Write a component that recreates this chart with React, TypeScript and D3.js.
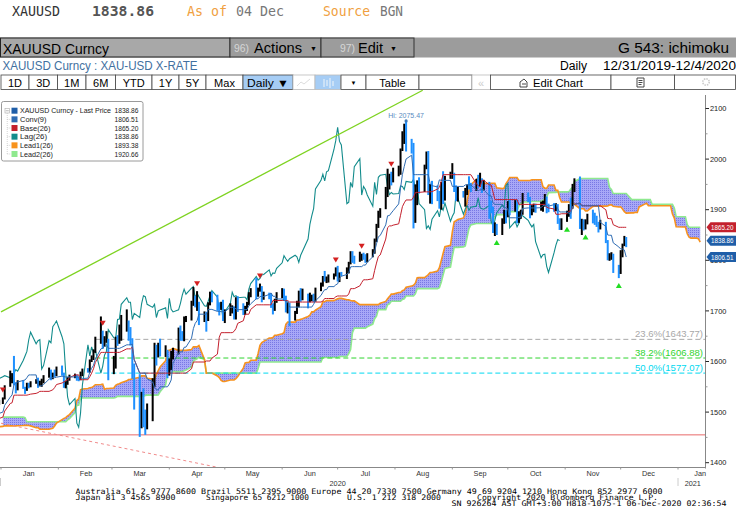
import * as d3 from 'd3'

// daily bars: [open, high, low, close], one per weekday (holidays skipped)
type Bar = [number, number, number, number]

const FIRST_DAY = '2019-09-13'
const HOLIDAYS = ['2019-12-25', '2020-01-01', '2020-12-25', '2021-01-01']

const SEP_2019: Bar[] = [
  [1498, 1506, 1486, 1488], [1488, 1511, 1484, 1498], [1498, 1511, 1496, 1502], [1502, 1507, 1491, 1494],
  [1494, 1507, 1489, 1499], [1499, 1517, 1497, 1516], [1516, 1526, 1511, 1522], [1522, 1535, 1520, 1531],
  [1531, 1533, 1502, 1504], [1504, 1513, 1497, 1505], [1505, 1510, 1487, 1497], [1497, 1498, 1464, 1472],
]
const OCT_2019: Bar[] = [
  [1472, 1486, 1459, 1478], [1478, 1502, 1474, 1500], [1500, 1514, 1497, 1506], [1506, 1513, 1500, 1504],
  [1504, 1505, 1490, 1494], [1494, 1508, 1490, 1505], [1505, 1512, 1500, 1506], [1506, 1509, 1493, 1495],
  [1495, 1501, 1480, 1489], [1489, 1496, 1486, 1493], [1493, 1499, 1477, 1481], [1481, 1495, 1481, 1490],
  [1490, 1499, 1485, 1493], [1493, 1497, 1486, 1490], [1490, 1494, 1480, 1484], [1484, 1490, 1479, 1487],
  [1487, 1496, 1482, 1492], [1492, 1507, 1490, 1504], [1504, 1511, 1501, 1505], [1505, 1507, 1490, 1492],
  [1492, 1494, 1480, 1487], [1487, 1499, 1483, 1496], [1496, 1514, 1490, 1513],
]
const NOV_2019: Bar[] = [
  [1513, 1517, 1503, 1514], [1514, 1516, 1505, 1510], [1510, 1512, 1480, 1484], [1484, 1495, 1478, 1491],
  [1491, 1495, 1462, 1467], [1467, 1472, 1456, 1459], [1459, 1462, 1450, 1456], [1456, 1460, 1445, 1449],
  [1449, 1467, 1447, 1463], [1463, 1474, 1460, 1471], [1471, 1475, 1463, 1468], [1468, 1475, 1463, 1472],
  [1472, 1476, 1466, 1471], [1471, 1478, 1467, 1474], [1474, 1476, 1460, 1464], [1464, 1468, 1456, 1462],
  [1462, 1464, 1452, 1455], [1455, 1463, 1454, 1462], [1462, 1463, 1451, 1454], [1454, 1460, 1452, 1457],
  [1457, 1466, 1455, 1464],
]
const DEC_2019: Bar[] = [
  [1464, 1465, 1456, 1462], [1462, 1479, 1460, 1477], [1477, 1481, 1470, 1474], [1474, 1482, 1470, 1474],
  [1474, 1476, 1458, 1460], [1460, 1465, 1456, 1462], [1462, 1467, 1458, 1464], [1464, 1477, 1460, 1475],
  [1475, 1478, 1463, 1469], [1469, 1480, 1466, 1476], [1476, 1479, 1471, 1476], [1476, 1478, 1472, 1476],
  [1476, 1479, 1471, 1475], [1475, 1480, 1471, 1478], [1478, 1481, 1474, 1478], [1478, 1489, 1477, 1487],
  [1487, 1500, 1486, 1499], [1499, 1512, 1498, 1511], [1511, 1514, 1504, 1511], [1511, 1517, 1508, 1515],
  [1515, 1524, 1514, 1517],
]
const JAN_2020: Bar[] = [
  [1517, 1529, 1516, 1528], [1528, 1553, 1525, 1552], [1552, 1582, 1550, 1566], [1566, 1577, 1557, 1574],
  [1574, 1611, 1553, 1556], [1556, 1559, 1537, 1552], [1552, 1563, 1543, 1562], [1562, 1563, 1546, 1548],
  [1548, 1550, 1536, 1545], [1545, 1558, 1542, 1557], [1557, 1558, 1547, 1552], [1552, 1561, 1549, 1557],
  [1557, 1565, 1556, 1560], [1560, 1568, 1548, 1558], [1558, 1562, 1551, 1558], [1558, 1566, 1550, 1563],
  [1563, 1573, 1557, 1571], [1571, 1588, 1568, 1582], [1582, 1584, 1563, 1567], [1567, 1578, 1565, 1577],
  [1577, 1584, 1569, 1575], [1575, 1590, 1571, 1589],
]
const FEB_2020: Bar[] = [
  [1589, 1592, 1572, 1577], [1577, 1578, 1548, 1552], [1552, 1561, 1547, 1556], [1556, 1569, 1554, 1566],
  [1566, 1574, 1562, 1570], [1570, 1576, 1567, 1572], [1572, 1574, 1562, 1568], [1568, 1570, 1561, 1566],
  [1566, 1580, 1563, 1576], [1576, 1586, 1571, 1584], [1584, 1587, 1578, 1581], [1581, 1604, 1578, 1602],
  [1602, 1612, 1599, 1611], [1611, 1624, 1603, 1620], [1620, 1649, 1617, 1643], [1643, 1689, 1635, 1658],
  [1658, 1661, 1625, 1635], [1635, 1650, 1629, 1641], [1641, 1660, 1637, 1643], [1643, 1645, 1563, 1585],
]
const MAR_2020: Bar[] = [
  [1585, 1611, 1575, 1592], [1592, 1649, 1586, 1641], [1641, 1652, 1631, 1637], [1637, 1673, 1635, 1669],
  [1669, 1692, 1641, 1674], [1674, 1703, 1659, 1680], [1680, 1681, 1641, 1649], [1649, 1668, 1632, 1635],
  [1635, 1646, 1566, 1577], [1577, 1596, 1505, 1530], [1530, 1575, 1451, 1515], [1515, 1540, 1468, 1527],
  [1527, 1547, 1470, 1478], [1478, 1505, 1455, 1470], [1470, 1517, 1466, 1498], [1498, 1567, 1482, 1553],
  [1553, 1637, 1549, 1633], [1633, 1633, 1592, 1611], [1611, 1637, 1608, 1629], [1629, 1645, 1610, 1617],
  [1617, 1632, 1609, 1622], [1622, 1623, 1567, 1577],
]
const APR_2020: Bar[] = [
  [1577, 1606, 1572, 1591], [1591, 1621, 1583, 1613], [1613, 1627, 1604, 1620], [1620, 1667, 1614, 1663],
  [1663, 1671, 1641, 1647], [1647, 1660, 1641, 1646], [1646, 1689, 1640, 1683], [1683, 1690, 1678, 1684],
  [1684, 1720, 1681, 1713], [1713, 1747, 1710, 1726], [1726, 1730, 1707, 1717], [1717, 1739, 1700, 1717],
  [1717, 1718, 1672, 1683], [1683, 1699, 1678, 1695], [1695, 1698, 1659, 1687], [1687, 1717, 1680, 1714],
  [1714, 1738, 1711, 1730], [1730, 1738, 1717, 1728], [1728, 1732, 1700, 1713], [1713, 1717, 1691, 1707],
  [1707, 1718, 1702, 1713], [1713, 1722, 1680, 1687],
]
const MAY_2020: Bar[] = [
  [1687, 1703, 1676, 1700], [1700, 1715, 1690, 1702], [1702, 1711, 1695, 1706], [1706, 1709, 1683, 1685],
  [1685, 1727, 1683, 1725], [1725, 1729, 1698, 1703], [1703, 1715, 1692, 1698], [1698, 1710, 1692, 1702],
  [1702, 1718, 1700, 1715], [1715, 1737, 1711, 1731], [1731, 1745, 1727, 1743], [1743, 1765, 1723, 1733],
  [1733, 1746, 1728, 1745], [1745, 1754, 1738, 1748], [1748, 1749, 1717, 1726], [1726, 1738, 1722, 1735],
  [1735, 1736, 1723, 1728], [1728, 1735, 1706, 1710], [1710, 1715, 1693, 1709], [1709, 1724, 1700, 1719],
  [1719, 1737, 1716, 1730],
]
const JUN_2020: Bar[] = [
  [1730, 1745, 1725, 1740], [1740, 1744, 1721, 1727], [1727, 1730, 1697, 1700], [1700, 1717, 1695, 1714],
  [1714, 1716, 1670, 1683], [1683, 1700, 1681, 1698], [1698, 1720, 1694, 1715], [1715, 1740, 1707, 1737],
  [1737, 1745, 1718, 1728], [1728, 1744, 1721, 1730], [1730, 1734, 1705, 1726], [1726, 1736, 1717, 1727],
  [1727, 1732, 1719, 1727], [1727, 1734, 1717, 1722], [1722, 1746, 1718, 1743], [1743, 1756, 1739, 1754],
  [1754, 1769, 1748, 1768], [1768, 1779, 1758, 1761], [1761, 1768, 1755, 1764], [1764, 1772, 1756, 1771],
  [1771, 1774, 1762, 1772], [1772, 1786, 1768, 1781],
]
const JUL_2020: Bar[] = [
  [1781, 1789, 1758, 1769], [1769, 1776, 1757, 1775], [1775, 1777, 1769, 1774], [1774, 1786, 1763, 1784],
  [1784, 1797, 1774, 1795], [1795, 1818, 1792, 1809], [1809, 1818, 1795, 1803], [1803, 1809, 1793, 1798],
  [1798, 1817, 1797, 1803], [1803, 1813, 1799, 1810], [1810, 1815, 1801, 1807], [1807, 1812, 1795, 1796],
  [1796, 1814, 1796, 1810], [1810, 1822, 1806, 1818], [1818, 1843, 1813, 1842], [1842, 1872, 1836, 1871],
  [1871, 1898, 1864, 1888], [1888, 1903, 1884, 1902], [1902, 1945, 1901, 1941], [1941, 1981, 1925, 1958],
  [1958, 1971, 1940, 1970], [1970, 1975, 1948, 1957], [1957, 1983, 1954, 1975],
]
const AUG_2020: Bar[] = [
  [1975, 1987, 1966, 1977], [1977, 2021, 1969, 2019], [2019, 2055, 2016, 2037], [2037, 2070, 2030, 2063],
  [2063, 2075.47, 2015, 2035], [2035, 2040, 2011, 2028], [2028, 2032, 1863, 1912], [1912, 1950, 1874, 1915],
  [1915, 1958, 1909, 1954], [1954, 1964, 1932, 1944], [1944, 1989, 1935, 1985], [1985, 2015, 1980, 2001],
  [2001, 2016, 1929, 1929], [1929, 1951, 1912, 1946], [1946, 1957, 1911, 1940], [1940, 1948, 1917, 1929],
  [1929, 1937, 1902, 1907], [1907, 1955, 1900, 1954], [1954, 1976, 1911, 1930], [1930, 1967, 1918, 1964],
  [1964, 1975, 1961, 1968],
]
const SEP_2020: Bar[] = [
  [1968, 1992, 1961, 1970], [1970, 1973, 1935, 1944], [1944, 1948, 1917, 1930], [1930, 1945, 1916, 1934],
  [1934, 1937, 1924, 1931], [1931, 1943, 1906, 1932], [1932, 1950, 1929, 1947], [1947, 1966, 1940, 1946],
  [1946, 1953, 1935, 1940], [1940, 1961, 1937, 1956], [1956, 1969, 1943, 1954], [1954, 1973, 1946, 1960],
  [1960, 1962, 1933, 1944], [1944, 1959, 1938, 1950], [1950, 1955, 1882, 1912], [1912, 1918, 1893, 1900],
  [1900, 1906, 1854, 1863], [1863, 1875, 1848, 1868], [1868, 1872, 1850, 1861], [1861, 1883, 1850, 1881],
  [1881, 1900, 1872, 1898], [1898, 1899, 1873, 1886],
]
const OCT_2020: Bar[] = [
  [1886, 1917, 1885, 1906], [1906, 1920, 1889, 1899], [1899, 1919, 1896, 1913], [1913, 1920, 1873, 1877],
  [1877, 1897, 1874, 1887], [1887, 1900, 1882, 1894], [1894, 1933, 1890, 1931], [1931, 1934, 1915, 1922],
  [1922, 1925, 1883, 1891], [1891, 1909, 1889, 1902], [1902, 1912, 1895, 1908], [1908, 1912, 1894, 1899],
  [1899, 1916, 1898, 1905], [1905, 1918, 1896, 1907], [1907, 1931, 1906, 1924], [1924, 1926, 1893, 1904],
  [1904, 1912, 1895, 1902], [1902, 1913, 1896, 1901], [1901, 1913, 1897, 1908], [1908, 1911, 1872, 1877],
  [1877, 1883, 1860, 1868], [1868, 1883, 1860, 1879],
]
const NOV_2020: Bar[] = [
  [1879, 1898, 1876, 1894], [1894, 1911, 1886, 1909], [1909, 1924, 1882, 1904], [1904, 1951, 1902, 1948],
  [1948, 1962, 1935, 1952], [1952, 1965.6, 1862, 1864], [1864, 1882, 1850, 1877], [1877, 1881, 1859, 1866],
  [1866, 1881, 1861, 1873], [1873, 1892, 1871, 1889], [1889, 1900, 1873, 1888], [1888, 1894, 1870, 1879],
  [1879, 1888, 1866, 1872], [1872, 1876, 1855, 1866], [1866, 1880, 1861, 1871], [1871, 1876, 1834, 1837],
  [1837, 1840, 1800, 1805], [1805, 1814, 1799, 1811], [1811, 1816, 1801, 1812], [1812, 1813, 1775, 1788],
  [1788, 1791, 1764.8, 1776],
]
const DEC_2020: Bar[] = [
  [1776, 1820, 1773, 1815], [1815, 1833, 1806, 1830], [1830, 1848.2, 1828, 1841], [1841, 1846, 1826, 1838.86],
]

const BARS: Bar[] = [
  ...SEP_2019, ...OCT_2019, ...NOV_2019, ...DEC_2019,
  ...JAN_2020, ...FEB_2020, ...MAR_2020, ...APR_2020, ...MAY_2020, ...JUN_2020,
  ...JUL_2020, ...AUG_2020, ...SEP_2020, ...OCT_2020, ...NOV_2020, ...DEC_2020,
]

const LEGEND_NAMES = ['XAUUSD Curncy - Last Price', 'Conv(9)', 'Base(26)', 'Lag(26)', 'Lead1(26)', 'Lead2(26)']
const LEGEND_VALUES = ['1838.86', '1806.51', '1865.20', '1838.86', '1893.38', '1920.66']
const TAG_VALUES = [1865.2, 1838.86, 1806.51]
const FIB_LEVELS = [
  { label: '23.6%(1643.77)', value: 1643.77 },
  { label: '38.2%(1606.88)', value: 1606.88 },
  { label: '50.0%(1577.07)', value: 1577.07 },
]
const FIB_START = '2020-02-21'
const SUPPORT = 1455
const TREND_UP = [{ date: '2020-01-01', value: 1698 }, { date: '2020-08-16', value: 2136 }]
const TREND_DOWN = [{ date: '2020-01-01', value: 1478 }, { date: '2020-04-27', value: 1391 }]
const SELL_MARKS = ['2020-01-02', '2020-02-25', '2020-04-16', '2020-05-20', '2020-06-30', '2020-07-14', '2020-07-30']
const BUY_MARKS = ['2020-09-25', '2020-11-02', '2020-11-12', '2020-11-30']
const Y_TICKS = [1400, 1500, 1600, 1700, 1800, 1900, 2000, 2100]
const MONTHS = ['Jan', 'Feb', 'Mar', 'Apr', 'May', 'Jun', 'Jul', 'Aug', 'Sep', 'Oct', 'Nov', 'Dec']

const SHIFT = 26
const COLORS = {
  last: '#1f5ea8', conv: '#2f6cb3', base: '#c3202d', lag: '#138c8c', lead1: '#f7931e', lead2: '#8fe98f',
  up: '#000000', down: '#1e90ff',
}
const FIB_COLORS = ['#a8a8a8', '#2fd42f', '#00d8f0']
const SANS = "'Liberation Sans', Arial, sans-serif"
const MONO = "'DejaVu Sans Mono', monospace"

const key = (d: Date) =>
  `${d.getFullYear()}-${String(d.getMonth() + 1).padStart(2, '0')}-${String(d.getDate()).padStart(2, '0')}`
const parse = (s: string) => {
  const [y, m, d] = s.split('-').map(Number)
  return new Date(y, m - 1, d)
}

function tradingDays(start: string, count: number) {
  const out: Date[] = []
  const d = parse(start)
  while (out.length < count) {
    const wd = d.getDay()
    if (wd !== 0 && wd !== 6 && !HOLIDAYS.includes(key(d))) out.push(new Date(d))
    d.setDate(d.getDate() + 1)
  }
  return out
}

const N = BARS.length
const DATES = tradingDays(FIRST_DAY, N + SHIFT)
const highs = BARS.map((b) => b[1])
const lows = BARS.map((b) => b[2])
const closes = BARS.map((b) => b[3])

function midRange(i: number, n: number) {
  if (i < n - 1) return null
  const h = d3.max(highs.slice(i - n + 1, i + 1)) as number
  const l = d3.min(lows.slice(i - n + 1, i + 1)) as number
  return (h + l) / 2
}

const conv = BARS.map((_, i) => midRange(i, 9))
const base = BARS.map((_, i) => midRange(i, 26))
const lag = BARS.map((_, i) => (i + SHIFT < N ? closes[i + SHIFT] : null))
const lead1: (number | null)[] = new Array(N + SHIFT).fill(null)
const lead2: (number | null)[] = new Array(N + SHIFT).fill(null)
BARS.forEach((_, i) => {
  const c = conv[i], b = base[i]
  if (c != null && b != null) lead1[i + SHIFT] = (c + b) / 2
  lead2[i + SHIFT] = midRange(i, 52)
})

// plot frame
const PL = 0, PR = 705.5, PT = 92, PB = 467.5
const x = d3.scaleTime().domain([new Date(2020, 0, 1), new Date(2021, 0, 1)]).range([1, 678])
const y = d3.scaleLinear().domain([1400, 2100]).range([462.7, 108.5])

type Pt = [Date, number | null]
const seriesPath = (vals: (number | null)[]) =>
  d3.line<Pt>()
    .defined((p) => p[1] != null)
    .x((p) => x(p[0]))
    .y((p) => y(p[1] as number))(vals.map((v, i) => [DATES[i], v] as Pt)) ?? ''

const cloudPath =
  d3.area<number>()
    .defined((i) => lead1[i] != null && lead2[i] != null)
    .x((i) => x(DATES[i]))
    .y0((i) => y(lead1[i] as number))
    .y1((i) => y(lead2[i] as number))(d3.range(N + SHIFT)) ?? ''

const idxOf = (s: string) => DATES.findIndex((d) => key(d) === s)
const hiIdx = d3.maxIndex(highs)

function Text({ x, y, w, children, size = 11, fill = '#000', family = SANS, anchor = 'start', weight = 'normal' }: any) {
  return (
    <text x={x} y={y} fontSize={size} fill={fill} fontFamily={family} textAnchor={anchor} fontWeight={weight}
      {...(w ? { textLength: w, lengthAdjust: 'spacingAndGlyphs' } : {})}>
      {children}
    </text>
  )
}

const TOOL_EDGES = [1, 29, 57.5, 86, 115.5, 152, 179, 206, 243]
const RANGE_BUTTONS = ['1D', '3D', '1M', '6M', 'YTD', '1Y', '5Y', 'Max']

function Header() {
  return (
    <g>
      <Text x={12} y={16} size={13.5} fill="#333" family={MONO} w={48}>XAUUSD</Text>
      <Text x={92} y={16} size={13.5} fill="#555" family={MONO} w={62} weight="bold">1838.86</Text>
      <Text x={187} y={16} size={13.5} fill="#f0a040" family={MONO} w={40}>As of</Text>
      <Text x={236} y={16} size={13.5} fill="#777" family={MONO} w={48}>04 Dec</Text>
      <Text x={323} y={16} size={13.5} fill="#f0a040" family={MONO} w={47}>Source</Text>
      <Text x={380} y={16} size={13.5} fill="#777" family={MONO} w={23}>BGN</Text>

      <rect x={0} y={37.5} width={736} height={20} fill="#9c9c9c" />
      <rect x={0.5} y={38} width={229.5} height={19} fill="#a8a8a8" stroke="#222" />
      <Text x={3} y={53.5} size={15} w={106}>XAUUSD Curncy</Text>
      <rect x={230} y={38} width={91} height={19} fill="#9c9c9c" stroke="#333" />
      <Text x={234} y={52} size={11} fill="#d6d6d6" w={15}>96)</Text>
      <Text x={254} y={53} size={14} w={48}>Actions</Text>
      <Text x={310} y={51} size={7}>▼</Text>
      <rect x={321} y={38} width={93} height={19} fill="#9c9c9c" stroke="#333" />
      <Text x={340} y={52} size={11} fill="#d6d6d6" w={15}>97)</Text>
      <Text x={358} y={53} size={14} w={25}>Edit</Text>
      <Text x={390} y={51} size={7}>▼</Text>
      <Text x={729} y={53} size={14} anchor="end" w={111}>G 543: ichimoku</Text>

      <Text x={2.5} y={70} size={12} fill="#42709f" w={195}>XAUUSD Curncy : XAU-USD X-RATE</Text>
      <Text x={560} y={70} size={12} w={27}>Daily</Text>
      <Text x={603} y={70} size={12} w={133}>12/31/2019-12/4/2020</Text>

      {RANGE_BUTTONS.map((b, i) => (
        <g key={b}>
          <rect x={TOOL_EDGES[i]} y={75} width={TOOL_EDGES[i + 1] - TOOL_EDGES[i]} height={14.5} fill="#fff" stroke="#444" strokeWidth={0.8} />
          <Text x={(TOOL_EDGES[i] + TOOL_EDGES[i + 1]) / 2} y={86.5} size={11} anchor="middle">{b}</Text>
        </g>
      ))}
      <rect x={243} y={75} width={50} height={14.5} fill="#a6cdf5" stroke="#444" strokeWidth={0.8} />
      <Text x={247} y={86.5} size={11} w={42}>Daily ▼</Text>
      <rect x={293} y={75} width={22} height={14.5} fill="#fff" stroke="#bbb" strokeWidth={0.8} />
      <path d="M297,86 L301,82 L304,84 L310,79" fill="none" stroke="#ddd" />
      <rect x={315} y={75} width={25.5} height={14.5} fill="#a6cdf5" stroke="#bbb" strokeWidth={0.8} />
      <path d="M324,79 V87 M327,80 V86 M330,78 V88 M333,81 V86" stroke="#d8e8f8" strokeWidth={1.5} />
      <rect x={341} y={75} width={25} height={14.5} fill="#fff" stroke="#444" strokeWidth={0.8} />
      <Text x={353.5} y={85} size={6} anchor="middle">▼</Text>
      <rect x={366} y={75} width={53} height={14.5} fill="#fff" stroke="#444" strokeWidth={0.8} />
      <Text x={392.5} y={86.5} size={11} anchor="middle">Table</Text>
      <rect x={419} y={75} width={53} height={14.5} fill="#fff" stroke="#444" strokeWidth={0.8} />
      <rect x={472} y={75} width={18.5} height={14.5} fill="#fff" stroke="#bbb" strokeWidth={0.8} />
      <Text x={481} y={86.5} size={11} fill="#ccc" anchor="middle">«</Text>
      <rect x={490.5} y={75} width={120.5} height={14.5} fill="#fff" stroke="#444" strokeWidth={0.8} />
      <path d="M520,87 V82 L524,79 L527,82 V87 Z M522,84 H526" fill="none" stroke="#333" strokeWidth={0.9} />
      <Text x={533} y={86.5} size={11} w={50}>Edit Chart</Text>
      <rect x={611} y={75} width={63.5} height={14.5} fill="#fff" stroke="#444" strokeWidth={0.8} />
      <path d="M637,78 h7 v9 h-7 Z M638.5,80.5 h4 M638.5,82.5 h4 M638.5,84.5 h3" fill="none" stroke="#333" strokeWidth={0.9} />
      <rect x={674.5} y={75} width={61} height={14.5} fill="#fff" stroke="#444" strokeWidth={0.8} />
      <circle cx={706} cy={82} r={3.2} fill="none" stroke="#ccc" strokeWidth={1.6} strokeDasharray="1.5,1" />
    </g>
  )
}

const LEGEND_TEXT_W = [91, 26.5, 30.5, 27, 33, 33]

function Legend() {
  const colors = [COLORS.last, COLORS.conv, COLORS.base, COLORS.lag, COLORS.lead1, COLORS.lead2]
  const top = 110.7
  const step = 8.66
  return (
    <g>
      <rect x={1.5} y={101.5} width={141.5} height={59.5} rx={2} fill="#fff" stroke="#9a9a9a" />
      <rect x={5} y={108.5} width={4.5} height={4.5} fill="#fff" stroke="#aaa" strokeWidth={0.6} />
      <line x1={5.8} x2={8.8} y1={110.75} y2={110.75} stroke="#888" strokeWidth={0.6} />
      <line x1={7.25} x2={7.25} y1={113} y2={top + step * 5} stroke="#bbb" strokeWidth={0.6} strokeDasharray="1,1" />
      {LEGEND_NAMES.map((name, i) => {
        const cy = top + i * step
        return (
          <g key={name}>
            {i > 0 && <line x1={7.25} x2={11} y1={cy} y2={cy} stroke="#bbb" strokeWidth={0.6} strokeDasharray="1,1" />}
            <rect x={11.5} y={cy - 3} width={6} height={6} fill={colors[i]} />
            <Text x={20} y={cy + 2.6} size={7.3} fill="#222" w={LEGEND_TEXT_W[i]}>{name}</Text>
            <Text x={138.5} y={cy + 2.6} size={7.3} fill="#222" anchor="end" w={24}>{LEGEND_VALUES[i]}</Text>
          </g>
        )
      })}
    </g>
  )
}

function Axes() {
  const minor = d3.range(1450, 2101, 100)
  const monthStarts = d3.range(0, 13).map((m) => new Date(2020, m, 1))
  const mid = d3.range(0, 13).map((m) => new Date(2020, m, m === 12 ? 13 : 16))
  return (
    <g>
      <line x1={PR} x2={PR} y1={PT + 3} y2={PB + 1} stroke="#888" />
      <line x1={PL} x2={PR} y1={PB} y2={PB} stroke="#888" />
      {Y_TICKS.map((t) => (
        <g key={t}>
          <line x1={PR} x2={PR + 3.5} y1={y(t)} y2={y(t)} stroke="#222" />
          <Text x={PR + 4.5} y={y(t) + 2.6} size={7.4} fill="#222">{t}</Text>
        </g>
      ))}
      {minor.map((t) => <line key={t} x1={PR} x2={PR + 2} y1={y(t)} y2={y(t)} stroke="#999" />)}
      {monthStarts.map((d, i) => <line key={i} x1={x(d)} x2={x(d)} y1={PB} y2={PB + 2} stroke="#999" />)}
      {mid.map((d, i) => (
        <Text key={i} x={x(d)} y={476} size={7.3} fill="#333" anchor="middle">{MONTHS[i % 12]}</Text>
      ))}
      <line x1={0.5} x2={0.5} y1={478} y2={486} stroke="#ccc" />
      <line x1={x(new Date(2021, 0, 1))} x2={x(new Date(2021, 0, 1))} y1={478} y2={486} stroke="#ccc" />
      <Text x={x(new Date(2020, 6, 1))} y={486} size={7.3} fill="#333" anchor="middle">2020</Text>
      <Text x={x(new Date(2021, 0, 9))} y={486} size={7.3} fill="#333" anchor="middle">2021</Text>
    </g>
  )
}

function Footer() {
  return (
    <g>
      <Text x={75.5} y={493.5} size={7.6} family={MONO} w={587}>Australia 61 2 9777 8600 Brazil 5511 2395 9000 Europe 44 20 7330 7500 Germany 49 69 9204 1210 Hong Kong 852 2977 6000</Text>
      <Text x={75.5} y={499.5} size={7.6} family={MONO} w={100}>Japan 81 3 4565 8900</Text>
      <Text x={206} y={499.5} size={7.6} family={MONO} w={103}>Singapore 65 6212 1000</Text>
      <Text x={347} y={499.5} size={7.6} family={MONO} w={94}>U.S. 1 212 318 2000</Text>
      <Text x={477} y={499.5} size={7.6} family={MONO} w={181}>Copyright 2020 Bloomberg Finance L.P.</Text>
      <Text x={451.5} y={505.5} size={7.6} family={MONO} w={275}>SN 926264 AST  GMT+3:00 H818-1075-1 06-Dec-2020 02:36:54</Text>
    </g>
  )
}

export default function App() {
  const fibX = x(parse(FIB_START))
  const hiX = x(DATES[hiIdx])
  const tagColors = [COLORS.base, COLORS.last, COLORS.last]
  return (
    <div style={{ position: 'fixed', left: 0, top: 0 }}>
      <svg width={736} height={530} style={{ display: 'block', background: '#fff' }}>
        <defs>
          <clipPath id="plot"><rect x={PL} y={PT} width={PR - PL} height={PB - PT} /></clipPath>
          <clipPath id="plotTall"><rect x={PL} y={87} width={PR - PL} height={PB - 87} /></clipPath>
          <pattern id="cloud" width={2} height={2} patternUnits="userSpaceOnUse">
            <rect width={2} height={2} fill="#a8a8f7" />
            <rect width={1} height={1} fill="#7878e4" />
          </pattern>
        </defs>
        <Header />

        <g clipPath="url(#plot)">
          <path d={cloudPath} fill="url(#cloud)" />
          <path d={seriesPath(lead2)} fill="none" stroke={COLORS.lead2} strokeWidth={1.6} />
          <path d={seriesPath(lead1)} fill="none" stroke={COLORS.lead1} strokeWidth={1.6} />

          {FIB_LEVELS.map((f, i) => (
            <line key={f.label} x1={fibX} x2={PR} y1={y(f.value)} y2={y(f.value)} stroke={FIB_COLORS[i]} strokeWidth={1} strokeDasharray="5,3" />
          ))}
          <line x1={PL} x2={PR} y1={y(SUPPORT)} y2={y(SUPPORT)} stroke="#e86a6a" strokeWidth={1} />
          <line x1={x(parse(TREND_DOWN[0].date))} y1={y(TREND_DOWN[0].value)} x2={x(parse(TREND_DOWN[1].date))} y2={y(TREND_DOWN[1].value)}
            stroke="#f08a8a" strokeWidth={1} strokeDasharray="3,3" />

          <path d={seriesPath(lag)} fill="none" stroke={COLORS.lag} strokeWidth={1.1} />

          {BARS.map((b, i) => {
            const cx = x(DATES[i])
            if (cx < -5) return null
            const top = y(b[1])
            const h = Math.max(1, y(b[2]) - top)
            return <rect key={i} x={cx - 1} y={top} width={2} height={h} fill={b[3] >= b[0] ? COLORS.up : COLORS.down} />
          })}

          <path d={seriesPath(base)} fill="none" stroke={COLORS.base} strokeWidth={1} />
          <path d={seriesPath(conv)} fill="none" stroke={COLORS.conv} strokeWidth={1} />

          {SELL_MARKS.map((s) => {
            const i = idxOf(s)
            const cx = x(DATES[i]), cy = y(highs[i]) - 7
            return <path key={s} d={`M${cx - 3},${cy - 3} L${cx + 3},${cy - 3} L${cx},${cy + 2} Z`} fill="#d42020" />
          })}
          {BUY_MARKS.map((s) => {
            const i = idxOf(s)
            const cx = x(DATES[i]), cy = y(lows[i]) + 7
            return <path key={s} d={`M${cx - 3},${cy + 3} L${cx + 3},${cy + 3} L${cx},${cy - 2} Z`} fill="#22dd22" />
          })}

          <circle cx={hiX} cy={y(highs[hiIdx])} r={1.6} fill="#3d78b8" />
          <Text x={hiX} y={y(highs[hiIdx]) - 3} size={7} fill="#5a8cc2" anchor="middle">{`Hi: ${highs[hiIdx].toFixed(2)}`}</Text>
        </g>

        <g clipPath="url(#plotTall)">
          <line x1={x(parse(TREND_UP[0].date))} y1={y(TREND_UP[0].value)} x2={x(parse(TREND_UP[1].date))} y2={y(TREND_UP[1].value)}
            stroke="#7ed321" strokeWidth={1.3} />
        </g>

        {FIB_LEVELS.map((f, i) => (
          <Text key={f.label} x={703} y={y(f.value) - 2.5} size={8.6} fill={FIB_COLORS[i]} anchor="end" w={68}>{f.label}</Text>
        ))}

        <Axes />

        {TAG_VALUES.map((v, i) => {
          const cy = y(v)
          return (
            <g key={i}>
              <path d={`M${PR + 1},${cy} L${PR + 5},${cy - 5} H736 V${cy + 5} H${PR + 5} Z`} fill={tagColors[i]} />
              <Text x={PR + 5.5} y={cy + 2.7} size={7.2} fill="#fff" w={22.5}>{v.toFixed(2)}</Text>
            </g>
          )
        })}

        <Legend />
        <Footer />
      </svg>
    </div>
  )
}
